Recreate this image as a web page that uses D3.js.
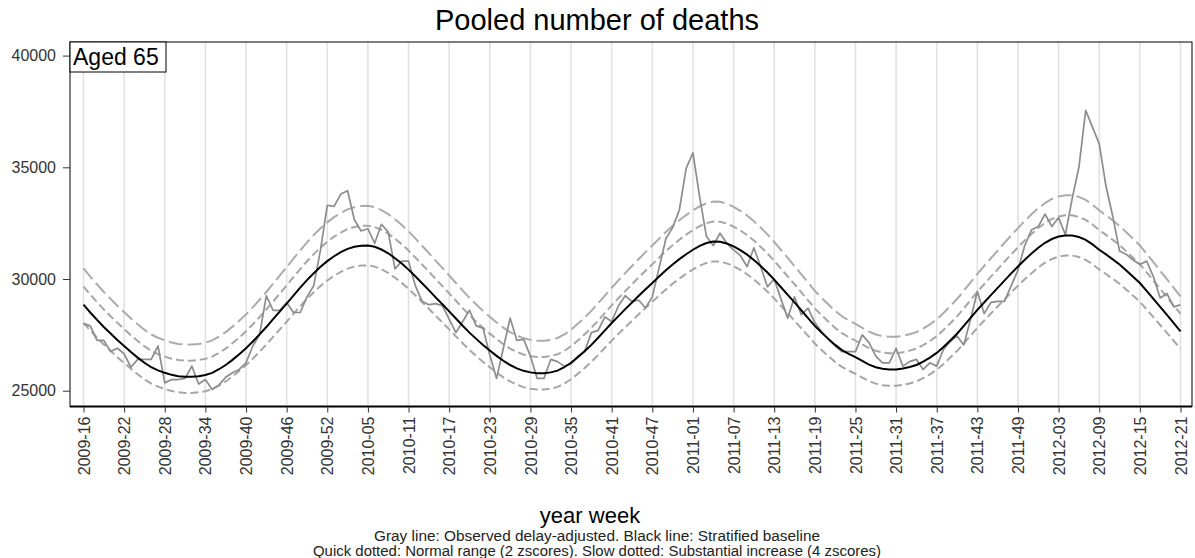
<!DOCTYPE html>
<html>
<head>
<meta charset="utf-8">
<script src="https://cdn.jsdelivr.net/npm/d3@7"></script>
<style>
  html, body { margin: 0; padding: 0; background: #fff; }
  svg { display: block; font-family: "Liberation Sans", Arial, sans-serif; }
</style>
</head>
<body>
<svg id="chart" width="1195" height="558"></svg>
<script>
// ---- data ----
const yearWeekRanges = [[2009, 16, 53], [2010, 1, 52], [2011, 1, 52], [2012, 1, 21]];
const tickLabels = ["2009-16","2009-22","2009-28","2009-34","2009-40","2009-46","2009-52",
  "2010-05","2010-11","2010-17","2010-23","2010-29","2010-35","2010-41","2010-47",
  "2011-01","2011-07","2011-13","2011-19","2011-25","2011-31","2011-37","2011-43","2011-49",
  "2012-03","2012-09","2012-15","2012-21"];
const yTicks = [25000, 30000, 35000, 40000];

const observed = [
  28000,27900,27250,27250,26750,26900,26650,26050,26400,26400,
  26400,27000,25350,25500,25500,25550,26100,25300,25500,25050,
  25250,25600,25800,25950,26250,27000,27500,29250,28600,28600,
  28950,28500,28500,29200,29700,31300,33300,33250,33800,33950,
  32650,32150,32250,31600,32450,32100,30450,30800,30800,29700,
  29000,28850,28900,28800,28200,27600,28100,28600,27900,27800,
  26600,25550,26900,28250,27250,27300,26550,25550,25550,26400,
  26300,26100,26200,26550,26750,27600,27700,28300,28100,28800,
  29250,29000,29050,28700,29200,30500,31800,32300,33100,34950,
  35650,33650,31900,31500,32050,31600,31300,31050,30550,31400,
  30550,29650,30000,29100,28250,29200,28400,28700,28050,27650,
  27300,27000,26750,26750,26750,27500,27150,26550,26250,26250,
  26900,26100,26300,26400,25950,26250,26100,26850,27200,27450,
  27050,28200,29450,28450,28950,29000,29000,29700,30400,31500,
  32200,32350,32900,32350,32750,31980,33600,35000,37550,36800,
  36050,34150,32800,31250,31100,30850,30650,30800,30100,29150,
  29350,28750,28850
];

const baseline = [
  28850,28500,28170,27850,27560,27270,27000,26730,26480,26250,
  26050,25910,25800,25710,25650,25620,25620,25650,25700,25800,
  25960,26150,26380,26630,26900,27200,27520,27850,28200,28550,
  28900,29260,29610,29950,30260,30550,30800,31020,31200,31350,
  31440,31490,31500,31440,31320,31150,30930,30690,30420,30120,
  29810,29500,29180,28870,28550,28230,27910,27600,27320,27050,
  26800,26560,26340,26150,26000,25890,25820,25780,25780,25820,
  25900,26050,26250,26500,26770,27050,27370,27700,28030,28340,
  28650,28950,29250,29540,29820,30110,30390,30650,30890,31110,
  31310,31480,31610,31680,31670,31590,31460,31290,31090,30850,
  30580,30290,29970,29630,29290,28950,28600,28250,27900,27600,
  27320,27050,26820,26650,26500,26330,26170,26050,25980,25950,
  25950,25990,26060,26150,26300,26480,26690,26960,27250,27550,
  27900,28260,28620,28950,29280,29600,29930,30250,30560,30860,
  31140,31400,31620,31790,31900,31950,31950,31880,31750,31550,
  31310,31100,30880,30650,30380,30100,29820,29470,29110,28750,
  28390,28020,27660
];

// one z-score (standard deviation) per week
const zscore = [
  406,401,397,392,388,384,380,376,373,370,
  367,365,363,362,361,361,361,361,362,363,
  366,368,372,375,379,383,388,392,397,402,
  407,412,417,422,426,430,434,437,439,442,
  443,444,444,443,441,439,436,432,428,424,
  420,415,411,407,402,398,393,389,385,381,
  377,374,371,368,366,365,364,363,363,364,
  365,367,370,373,377,381,385,390,395,399,
  404,408,412,416,420,424,428,432,435,438,
  441,443,445,446,446,445,443,441,438,435,
  431,427,422,417,413,408,403,398,393,389,
  385,381,378,375,373,371,369,367,366,365,
  365,366,367,368,370,373,376,380,384,388,
  393,398,403,408,412,417,422,426,430,435,
  439,442,445,448,449,450,450,449,447,444,
  441,438,435,432,428,424,420,415,410,405,
  400,395,390
];

// ---- build ----
const weeks = [];
yearWeekRanges.forEach(([yr, w0, w1]) => {
  for (let w = w0; w <= w1; w++) weeks.push(yr + "-" + String(w).padStart(2, "0"));
});

const svg = d3.select("#chart");
const panel = { left: 70, top: 42, right: 1192, bottom: 406.5 };

const x = d3.scalePoint().domain(weeks).range([83.5, 1180.5]);
const y = d3.scaleLinear().domain([25000, 40000]).range([390.7, 55.6]);

// grid
svg.append("g").selectAll("line").data(tickLabels).join("line")
  .attr("x1", d => x(d)).attr("x2", d => x(d))
  .attr("y1", panel.top).attr("y2", panel.bottom)
  .attr("stroke", "#e5e1e1").attr("stroke-width", 1.6);

const line = (arr) => d3.line().x((d, i) => x(weeks[i])).y(d => y(d))(arr);

const upper4 = baseline.map((b, i) => b + 4 * zscore[i]);
const upper2 = baseline.map((b, i) => b + 2 * zscore[i]);
const lower2 = baseline.map((b, i) => b - 2 * zscore[i]);

svg.append("path").attr("d", line(upper4)).attr("fill", "none")
  .attr("stroke", "#ababab").attr("stroke-width", 2).attr("stroke-dasharray", "14,5");
svg.append("path").attr("d", line(upper2)).attr("fill", "none")
  .attr("stroke", "#a6a6a6").attr("stroke-width", 2).attr("stroke-dasharray", "8,4");
svg.append("path").attr("d", line(lower2)).attr("fill", "none")
  .attr("stroke", "#a6a6a6").attr("stroke-width", 2).attr("stroke-dasharray", "8,4");

svg.append("path").attr("d", line(observed)).attr("fill", "none")
  .attr("stroke", "#8c8c8c").attr("stroke-width", 1.7).attr("stroke-linejoin", "round");
svg.append("path").attr("d", line(baseline)).attr("fill", "none")
  .attr("stroke", "#000").attr("stroke-width", 2);

// panel box
svg.append("rect").attr("x", panel.left).attr("y", panel.top)
  .attr("width", panel.right - panel.left).attr("height", panel.bottom - panel.top)
  .attr("fill", "none").attr("stroke", "#000").attr("stroke-width", 1);

// y axis
const yAxis = d3.axisLeft(y).tickValues(yTicks).tickSize(7).tickPadding(7).tickFormat(d3.format("d"));
const gy = svg.append("g").attr("transform", `translate(${panel.left},0)`).call(yAxis);
gy.select(".domain").remove();
gy.selectAll("text").attr("font-size", 16).attr("fill", "#333").attr("font-family", "Liberation Sans, Arial, sans-serif");
gy.selectAll("line").attr("stroke", "#333");

// x axis
const xAxis = d3.axisBottom(x).tickValues(tickLabels).tickSize(6).tickPadding(4);
const gx = svg.append("g").attr("transform", `translate(0,${panel.bottom})`).call(xAxis);
gx.select(".domain").attr("stroke", "#000").attr("stroke-width", 1.8).attr("d", `M${panel.left},0H${panel.right}`);
gx.selectAll("line").attr("stroke", "#333");
gx.selectAll("text")
  .attr("font-size", 16).attr("fill", "#333").attr("font-family", "Liberation Sans, Arial, sans-serif")
  .attr("transform", "rotate(-90)")
  .attr("text-anchor", "end").attr("dy", "0.35em")
  .attr("x", -10).attr("y", 0);

// title
svg.append("text").attr("x", 597).attr("y", 30).attr("text-anchor", "middle")
  .attr("font-size", 29).attr("fill", "#000").text("Pooled number of deaths");

// label box
svg.append("rect").attr("x", panel.left).attr("y", panel.top).attr("width", 96).attr("height", 30)
  .attr("fill", "#fff").attr("stroke", "#000").attr("stroke-width", 1);
svg.append("text").attr("x", 73).attr("y", 65).attr("font-size", 23).attr("fill", "#000").text("Aged 65");

// x title and notes
svg.append("text").attr("x", 590).attr("y", 523).attr("text-anchor", "middle")
  .attr("font-size", 22).attr("fill", "#000").text("year week");
svg.append("text").attr("x", 597).attr("y", 541).attr("text-anchor", "middle")
  .attr("font-size", 14).attr("fill", "#222")
  .attr("textLength", 446).attr("lengthAdjust", "spacingAndGlyphs")
  .text("Gray line: Observed delay-adjusted. Black line: Stratified baseline");
svg.append("text").attr("x", 597).attr("y", 555.5).attr("text-anchor", "middle")
  .attr("font-size", 14).attr("fill", "#222")
  .attr("textLength", 568).attr("lengthAdjust", "spacingAndGlyphs")
  .text("Quick dotted: Normal range (2 zscores). Slow dotted: Substantial increase (4 zscores)");
</script>
</body>
</html>
